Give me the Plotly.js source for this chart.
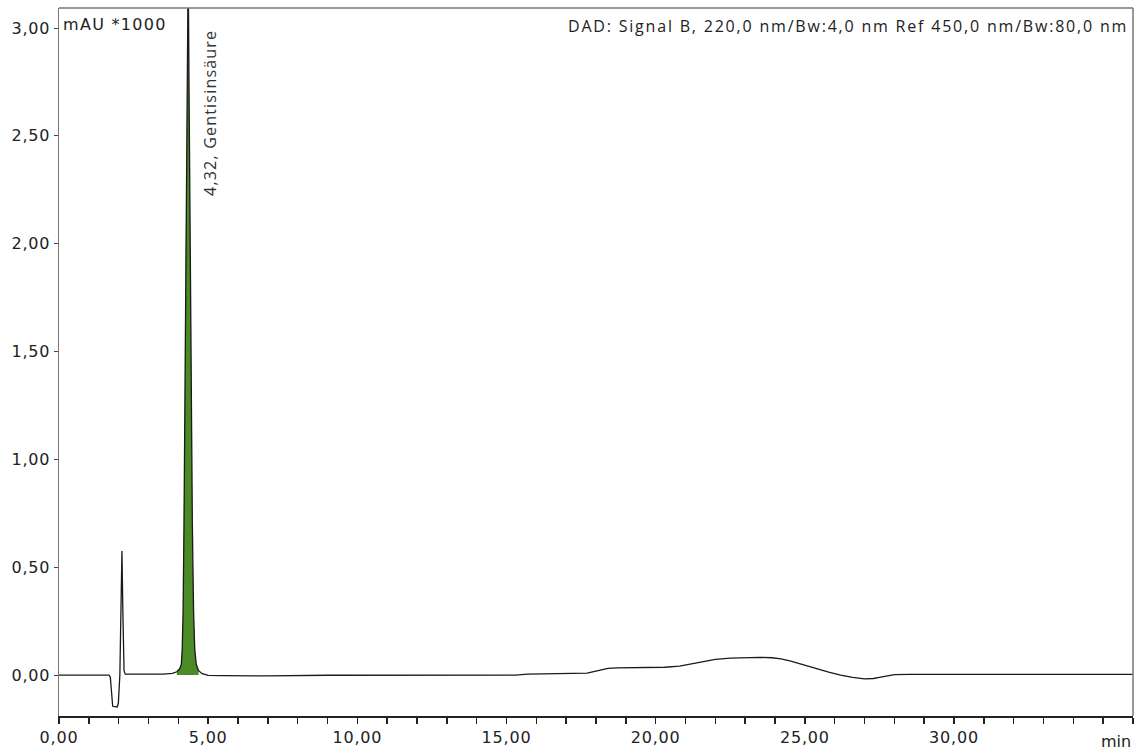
<!DOCTYPE html>
<html>
<head>
<meta charset="utf-8">
<script src="https://cdn.plot.ly/plotly-3.0.1.min.js"></script>
<style>
html,body{margin:0;padding:0;background:#fff;}
#chart{width:1137px;height:752px;}
.xtick text, .ytick text { letter-spacing: 0.8px; }
text.annotation-text[data-unformatted^="DAD"] { letter-spacing: 1.8px; }
text.annotation-text[data-unformatted^="4,32"] { letter-spacing: 1.2px; }
text.annotation-text[data-unformatted^="mAU"] { letter-spacing: 1.3px; }
</style>
</head>
<body>
<div id="chart"></div>
<script>
// Retention time (min) and signal (mAU * 1000)
const time = [0, 1.0, 1.68, 1.72, 1.76, 1.80, 1.95, 1.99, 2.04, 2.08, 2.11, 2.14, 2.18, 2.22, 3.0, 3.5, 3.8, 3.95, 4.05, 4.10, 4.13, 4.16, 4.19, 4.22, 4.25, 4.28, 4.31, 4.33, 4.36, 4.39, 4.43, 4.47, 4.51, 4.55, 4.60, 4.68, 4.8, 5.0, 5.5, 7.0, 9.0, 12.0, 15.3, 15.7, 17.4, 17.7, 18.0, 18.2, 18.4, 18.7, 19.5, 20.3, 20.8, 21.2, 21.6, 22.0, 22.5, 23.0, 23.5, 23.9, 24.2, 24.5, 24.9, 25.3, 25.8, 26.2, 26.6, 27.0, 27.3, 27.5, 27.8, 28.0, 28.5, 29.5, 36.0];
const signal = [0, 0, 0, -0.01, -0.10, -0.145, -0.148, -0.13, 0.0, 0.30, 0.575, 0.30, 0.02, 0.004, 0.002, 0.004, 0.008, 0.015, 0.03, 0.05, 0.12, 0.30, 0.70, 1.30, 2.00, 2.70, 3.25, 3.30, 2.70, 2.00, 1.30, 0.70, 0.30, 0.12, 0.05, 0.02, 0.006, -0.002, -0.003, -0.004, -0.001, 0.0, 0.0, 0.004, 0.006, 0.009, 0.018, 0.026, 0.031, 0.033, 0.034, 0.036, 0.041, 0.051, 0.062, 0.073, 0.078, 0.081, 0.082, 0.080, 0.075, 0.066, 0.050, 0.031, 0.013, 0.0, -0.011, -0.018, -0.016, -0.011, -0.004, 0.002, 0.003, 0.003, 0.003];
const peakStart = 3.82, peakEnd = 4.70;
const peakLabel = "4,32, Gentisinsäure";
const peakTime = 4.32;
const xTickVals = [0, 5, 10, 15, 20, 25, 30];
const xTickText = ["0,00", "5,00", "10,00", "15,00", "20,00", "25,00", "30,00"];
const yTickVals = [0, 0.5, 1.0, 1.5, 2.0, 2.5, 3.0];
const yUnit = "mAU *1000";
const xUnit = "min";
const signalInfo = "DAD: Signal B, 220,0 nm/Bw:4,0 nm Ref 450,0 nm/Bw:80,0 nm";

const pkT = [], pkY = [];
time.forEach((t, i) => { if (t >= peakStart && t <= peakEnd) { pkT.push(t); pkY.push(signal[i]); } });

// all minute ticks, labels only on multiples of 5
const allTicks = [], allText = [];
for (let m = 0; m <= 36; m++) {
  allTicks.push(m);
  const k = xTickVals.indexOf(m);
  allText.push(k >= 0 ? xTickText[k] : "");
}

const traces = [
  {x: pkT, y: pkY, type: 'scatter', mode: 'lines', fill: 'tozeroy', fillcolor: '#4b8a25', line: {width: 0, color: '#4b8a25'}, hoverinfo: 'skip'},
  {x: time, y: signal, type: 'scatter', mode: 'lines', line: {color: '#1a1a1a', width: 1.3}}
];

const layout = {
  width: 1137, height: 752,
  margin: {l: 59, r: 4, t: 8, b: 36},
  paper_bgcolor: '#fff', plot_bgcolor: '#fff',
  showlegend: false,
  separators: ',.',
  font: {family: 'DejaVu Sans', size: 16, color: '#222'},
  xaxis: {
    range: [0, 36], tickmode: 'array', tickvals: allTicks, ticktext: allText,
    ticks: 'outside', ticklen: 6, tickwidth: 1.5, tickcolor: '#222',
    showline: true, linecolor: '#222', linewidth: 1.5,
    showgrid: false, zeroline: false,
    tickfont: {family: 'DejaVu Sans', size: 16, color: '#222'}
  },
  yaxis: {
    range: [-0.19, 3.093], tickmode: 'array', tickvals: yTickVals, tickformat: '.2f',
    ticks: 'outside', ticklen: 4, tickwidth: 1, tickcolor: '#444',
    showline: true, linecolor: '#777', linewidth: 1.5,
    showgrid: false, zeroline: false,
    tickfont: {family: 'DejaVu Sans', size: 16, color: '#222'}
  },
  shapes: [
    {type: 'line', xref: 'paper', yref: 'paper', x0: 0, x1: 1, y0: 1, y1: 1, line: {color: '#777', width: 1.5}},
    {type: 'line', xref: 'paper', yref: 'paper', x0: 1, x1: 1, y0: 0, y1: 1, line: {color: '#777', width: 1.5}}
  ],
  annotations: [
    {text: yUnit, xref: 'paper', yref: 'paper', x: 0.002, y: 0.993, xanchor: 'left', yanchor: 'top', showarrow: false, font: {family: 'DejaVu Sans', size: 16, color: '#222'}},
    {text: signalInfo, xref: 'paper', yref: 'paper', x: 0.997, y: 0.993, xanchor: 'right', yanchor: 'top', showarrow: false, font: {family: 'Open Sans', size: 16, color: '#222'}},
    {text: peakLabel, xref: 'x', yref: 'y', x: peakTime, y: 3.0, xshift: 22, xanchor: 'center', yanchor: 'top', textangle: -90, showarrow: false, font: {family: 'Open Sans', size: 16, color: '#333'}},
    {text: xUnit, xref: 'paper', yref: 'paper', x: 1, y: 0, yshift: -14, xanchor: 'right', yanchor: 'top', showarrow: false, font: {family: 'DejaVu Sans', size: 16, color: '#222'}}
  ]
};

Plotly.newPlot('chart', traces, layout, {displayModeBar: false, staticPlot: true});
</script>
</body>
</html>
